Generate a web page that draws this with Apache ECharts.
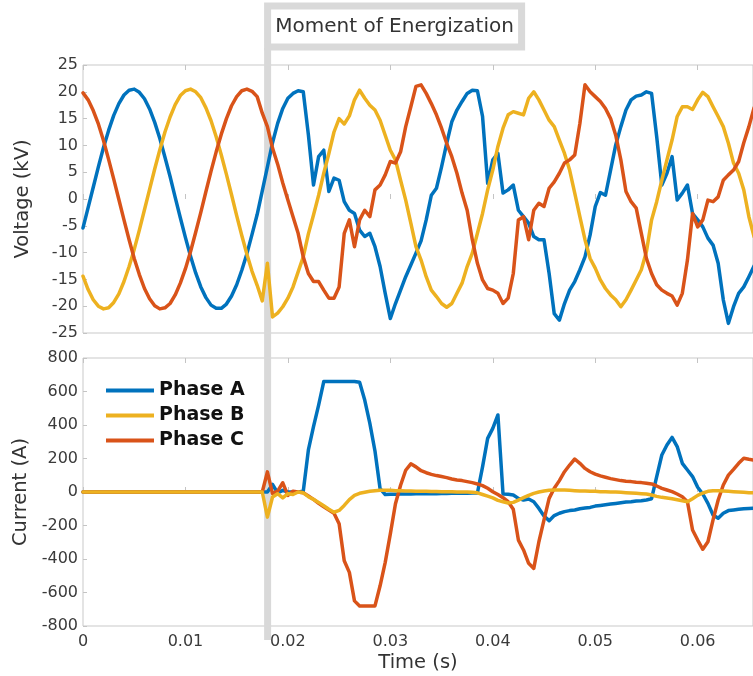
<!DOCTYPE html>
<html>
<head>
<meta charset="utf-8">
<script src="https://cdn.jsdelivr.net/npm/echarts/dist/echarts.min.js"></script>
<style>
html,body{margin:0;padding:0;background:#fff;}
#chart{width:753px;height:676px;}
</style>
</head>
<body>
<div id="chart"></div>
<script>
const sampleStep = 0.0005;          // s between samples
const energizationTime = 0.01802;   // s
const seriesNames = ['Phase A', 'Phase B', 'Phase C'];
const xTickStep = 0.01;
const xMax = 0.0654;

// Voltage (kV)
const phaseA_kV = [
-5.4,-1.6,2.2,6.0,9.6,12.8,15.6,17.8,19.4,20.3,
20.5,19.9,18.7,16.8,14.3,11.3,7.8,4.2,0.3,-3.5,
-7.2,-10.7,-13.8,-16.4,-18.4,-19.8,-20.4,-20.4,-19.6,-18.1,
-16.0,-13.3,-10.2,-6.6,-2.9,1.5,6.0,10.5,14.1,16.9,
18.8,19.7,20.2,20.0,12.0,2.6,7.9,9.1,1.4,3.9,
3.5,-0.5,-2.1,-2.7,-5.8,-7.0,-6.4,-8.9,-12.6,-17.6,
-22.3,-19.5,-17.0,-14.5,-12.3,-10.1,-7.8,-3.9,0.7,2.0,
6.0,10.4,14.4,16.6,18.2,19.7,20.3,20.2,15.4,2.9,
7.3,8.5,1.1,1.7,2.6,-2.1,-3.3,-4.5,-7.0,-7.6,
-7.6,-13.9,-21.4,-22.6,-19.5,-17.0,-15.4,-13.2,-10.8,-6.7,
-1.4,1.2,0.7,5.4,10.1,13.5,16.6,18.5,19.2,19.4,
20.0,19.7,11.6,2.6,4.8,7.9,-0.2,1.1,2.6,-2.7,
-3.9,-5.2,-7.3,-8.6,-12.0,-18.8,-23.2,-20.1,-17.6,-16.4,
-14.5,-12.5
];
const phaseB_kV = [
-14.4,-16.9,-18.8,-20.0,-20.5,-20.3,-19.3,-17.7,-15.4,-12.6,
-9.4,-5.8,-2.0,1.8,5.6,9.2,12.5,15.3,17.6,19.3,
20.2,20.5,20.0,18.9,17.0,14.6,11.6,8.2,4.6,0.8,
-3.1,-6.8,-10.3,-13.5,-16.1,-19.0,-12.0,-22.0,-21.3,-20.1,
-18.5,-16.4,-13.6,-10.8,-6.5,-3.0,0.7,4.8,8.5,12.5,
15.0,14.0,15.5,18.5,20.3,18.8,17.5,16.6,14.7,11.9,
9.1,7.3,3.5,-0.2,-4.5,-8.9,-11.4,-14.5,-17.0,-18.2,
-19.5,-20.2,-19.5,-17.6,-15.7,-12.6,-10.1,-6.4,-2.7,1.7,
5.4,9.8,13.2,15.7,16.3,16.0,15.7,18.8,20.0,18.5,
16.6,14.7,13.5,11.0,8.5,5.4,1.1,-3.3,-7.6,-11.1,
-12.9,-15.1,-16.7,-17.9,-18.8,-20.1,-18.8,-17.0,-15.1,-13.2,
-9.8,-3.9,-0.5,3.5,7.3,11.0,15.4,17.2,17.2,16.7,
18.5,19.9,19.1,17.2,15.4,13.5,10.4,6.7,4.8,1.7,
-3.3,-7.0
];
const phaseC_kV = [
19.8,18.5,16.5,14.0,10.9,7.4,3.7,-0.1,-3.9,-7.6,
-11.1,-14.1,-16.7,-18.6,-19.9,-20.5,-20.3,-19.5,-17.9,-15.7,
-13.0,-9.8,-6.2,-2.5,1.4,5.2,8.8,12.1,15.0,17.4,
19.1,20.2,20.5,20.1,19.1,16.0,13.5,9.5,6.5,3.0,
-0.2,-3.3,-6.4,-10.8,-13.9,-15.4,-15.4,-17.0,-18.5,-18.5,
-16.4,-6.4,-3.9,-8.9,-3.9,-2.1,-3.3,1.7,2.6,4.5,
7.0,6.7,8.8,13.5,17.2,21.0,21.3,19.7,17.8,15.7,
13.2,10.4,7.9,4.8,1.1,-2.1,-7.6,-12.0,-15.1,-16.7,
-17.0,-17.6,-19.5,-18.5,-13.9,-3.9,-3.3,-7.6,-2.1,-0.8,
-1.4,2.0,3.2,4.8,6.7,7.3,8.2,14.1,21.3,20.0,
19.1,18.2,16.9,15.0,11.9,7.3,1.4,-0.5,-1.7,-6.4,
-11.1,-13.9,-16.0,-17.0,-17.6,-18.1,-19.8,-17.6,-11.4,-2.7,
-5.2,-3.9,-0.2,-0.5,0.4,3.5,4.5,5.4,7.0,10.5,
13.5,17.0
];

// Current (A)
const phaseA_A = [
0,0,0,0,0,0,0,0,0,0,
0,0,0,0,0,0,0,0,0,0,
0,0,0,0,0,0,0,0,0,0,
0,0,0,0,0,0,0,45,-5,10,
0,0,0,5,251,390,519,659,660,660,
660,660,660,660,655,549,410,245,20,-15,
-14,-13,-12,-12,-12,-11,-11,-10,-10,-10,
-9,-9,-8,-8,-8,-7,-6,-6,150,320,
380,460,-12,-14,-18,-38,-48,-42,-58,-98,
-143,-171,-141,-127,-117,-111,-107,-100,-96,-92,
-84,-80,-76,-72,-68,-64,-60,-58,-54,-52,
-48,-40,92,221,281,326,271,171,131,92,
28,-12,-68,-137,-157,-127,-111,-107,-103,-100,
-98,-96
];
const phaseB_A = [
0,0,0,0,0,0,0,0,0,0,
0,0,0,0,0,0,0,0,0,0,
0,0,0,0,0,0,0,0,0,0,
0,0,0,0,0,0,-150,-30,-10,-35,
-10,-15,0,-5,-28,-44,-62,-82,-103,-121,
-110,-80,-45,-20,-8,-2,4,8,10,10,
10,8,8,6,6,5,4,4,3,3,
2,2,2,0,0,0,-2,-5,-15,-25,
-35,-50,-58,-66,-62,-48,-34,-20,-8,0,
6,10,12,12,12,10,8,6,6,4,
4,2,2,0,0,-2,-4,-6,-8,-10,
-12,-18,-26,-32,-36,-40,-46,-52,-58,-40,
-20,-6,4,8,8,6,4,2,0,-2,
-4,-4
];
const phaseC_A = [
0,0,0,0,0,0,0,0,0,0,
0,0,0,0,0,0,0,0,0,0,
0,0,0,0,0,0,0,0,0,0,
0,0,0,0,0,0,120,-10,5,55,
-20,5,0,-5,-24,-44,-68,-88,-107,-127,
-190,-410,-480,-650,-680,-680,-680,-680,-560,-420,
-250,-70,40,130,168,150,127,115,105,98,
92,86,78,72,68,62,56,48,38,22,
2,-15,-34,-58,-103,-287,-346,-426,-456,-297,
-167,-38,22,68,121,161,197,171,141,121,
107,96,88,80,74,68,64,62,58,56,
52,48,36,22,12,2,-12,-28,-58,-227,
-287,-342,-297,-167,-48,42,101,135,171,201,
195,190
];

const voltageTicks = {min: -25, max: 25, step: 5};
const currentTicks = {min: -800, max: 800, step: 200};

// ---- styling ----
const FONT = 'DejaVu Sans';
const colors = ['#0072BD', '#EDB120', '#D95319'];
const boxColor = '#c9c9c9';
const tickColor = '#c4c4c4';
const labelColor = '#3a3a3a';

function pairs(values) {
  return values.map((v, i) => [i * sampleStep, v]);
}
function lineSeries(name, values, color, xi, yi, z) {
  return {
    name: name, type: 'line', xAxisIndex: xi, yAxisIndex: yi,
    data: pairs(values), showSymbol: false, symbol: 'none', silent: true,
    zlevel: 1, z: z,
    lineStyle: {color: color, width: 3.5, cap: 'round', join: 'round'},
    itemStyle: {color: color}
  };
}
function xLabel(v) {
  const r = Math.round(v / xTickStep);
  if (Math.abs(v / xTickStep - r) > 1e-6) return '';
  return r === 0 ? '0' : (r * xTickStep).toFixed(2);
}
function xAxisCfg(grid, pos, labels, name) {
  return {
    gridIndex: grid, type: 'value', position: pos, min: 0, max: xMax, interval: xTickStep,
    axisLine: {show: false},
    axisTick: {show: true, inside: true, length: 5, lineStyle: {color: tickColor}},
    splitLine: {show: false},
    axisLabel: {show: labels, showMaxLabel: false, formatter: xLabel, color: labelColor,
      fontFamily: FONT, fontSize: 16, margin: 8},
    name: name || '', nameLocation: 'middle', nameGap: 27,
    nameTextStyle: {fontFamily: FONT, fontSize: 19.5, color: '#333'}
  };
}
function yAxisCfg(grid, t, name) {
  return {
    gridIndex: grid, type: 'value', min: t.min, max: t.max, interval: t.step,
    axisLine: {show: false},
    axisTick: {show: true, inside: true, length: 4, lineStyle: {color: tickColor}},
    splitLine: {show: false},
    axisLabel: {color: labelColor, fontFamily: FONT, fontSize: 16, margin: 5},
    name: name, nameLocation: 'middle', nameGap: 50,
    nameTextStyle: {fontFamily: FONT, fontSize: 19.5, color: '#333'}
  };
}

const chart = echarts.init(document.getElementById('chart'), null, {renderer: 'canvas'});
const option = {
  animation: false,
  backgroundColor: '#ffffff',
  textStyle: {fontFamily: FONT},
  grid: [
    {left: 83, top: 65, width: 675, height: 268, show: true, borderColor: boxColor, borderWidth: 1, backgroundColor: 'transparent'},
    {left: 83, top: 358, width: 675, height: 268, show: true, borderColor: boxColor, borderWidth: 1, backgroundColor: 'transparent'}
  ],
  xAxis: [
    xAxisCfg(0, 'bottom', false),
    xAxisCfg(0, 'top', false),
    xAxisCfg(1, 'bottom', true, 'Time (s)'),
    xAxisCfg(1, 'top', false)
  ],
  yAxis: [
    yAxisCfg(0, voltageTicks, 'Voltage (kV)'),
    yAxisCfg(1, currentTicks, 'Current (A)')
  ],
  legend: {
    data: seriesNames, orient: 'vertical', left: 106, top: 378, padding: 0,
    itemGap: 0, itemWidth: 48, itemHeight: 4, icon: 'rect', selectedMode: false,
    zlevel: 1, z: 10,
    textStyle: {fontFamily: FONT, fontSize: 19, fontWeight: 'bold', color: '#111', lineHeight: 25}
  },
  series: [
    lineSeries(seriesNames[0], phaseA_kV, colors[0], 0, 0, 2),
    lineSeries(seriesNames[1], phaseB_kV, colors[1], 0, 0, 3),
    lineSeries(seriesNames[2], phaseC_kV, colors[2], 0, 0, 4),
    lineSeries(seriesNames[0], phaseA_A, colors[0], 2, 1, 2),
    lineSeries(seriesNames[1], phaseB_A, colors[1], 2, 1, 4),
    lineSeries(seriesNames[2], phaseC_A, colors[2], 2, 1, 3)
  ]
};
chart.setOption(option);

// energization marker and label, positioned from the time value
const xe = chart.convertToPixel({xAxisIndex: 0}, energizationTime);
chart.setOption({
  graphic: [
    {type: 'rect', zlevel: 0, z: 1, silent: true,
      shape: {x: xe - 3.5, y: 48, width: 7, height: 592},
      style: {fill: '#d9d9d9'}},
    {type: 'rect', zlevel: 2, z: 100, silent: true,
      shape: {x: xe, y: 6, width: 254, height: 41},
      style: {fill: '#ffffff', stroke: '#d9d9d9', lineWidth: 7}},
    {type: 'text', zlevel: 2, z: 101, silent: true,
      x: xe + 127, y: 27,
      style: {text: 'Moment of Energization', fontFamily: FONT, fontSize: 20,
        fill: '#333', align: 'center', verticalAlign: 'middle'}}
  ]
});
</script>
</body>
</html>
